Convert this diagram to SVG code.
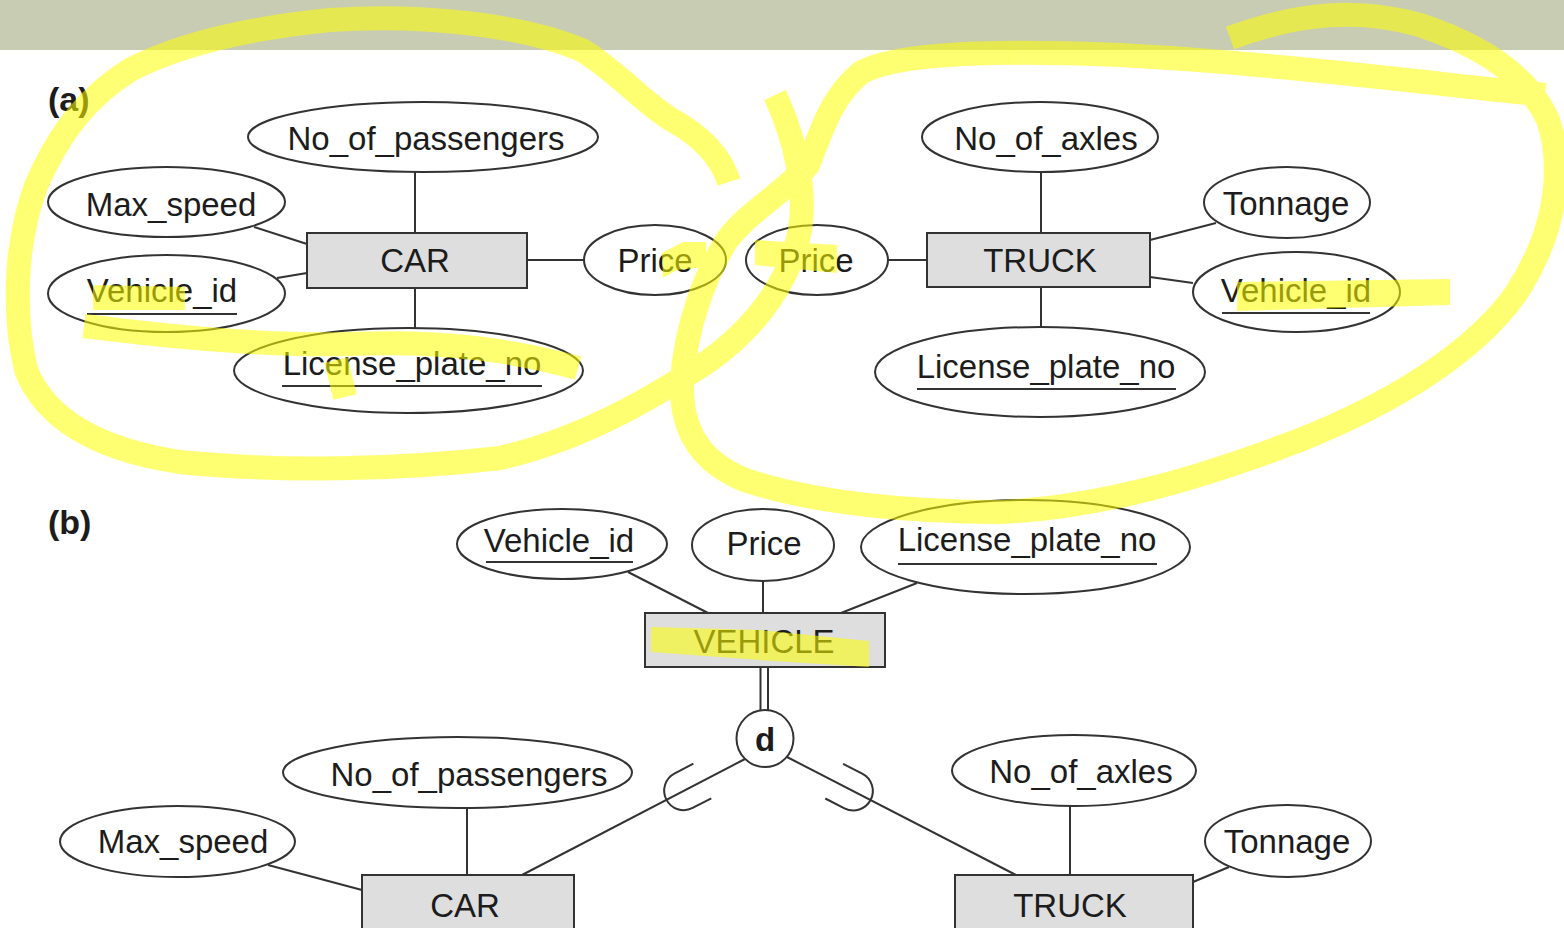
<svg xmlns="http://www.w3.org/2000/svg" width="1564" height="928" viewBox="0 0 1564 928">
  <style>
    .attr { fill: #ffffff; stroke: #333333; stroke-width: 2; }
    .ent { fill: #dedede; stroke: #333333; stroke-width: 2; }
    .lbl { font-family: "Liberation Sans", Arial, Helvetica, sans-serif; font-size: 33px; fill: #1c1c1c; text-anchor: middle; }
    .tag { font-family: "Liberation Sans", Arial, Helvetica, sans-serif; font-size: 34px; font-weight: bold; fill: #1c1c1c; }
    .key { stroke: #333333; stroke-width: 2; }
    #connectors line { stroke: #333333; stroke-width: 2; }
    #connectors path { fill: none; stroke: #333333; stroke-width: 2; }
    .hl path { fill: none; stroke: #ffff00; stroke-width: 24; stroke-linecap: butt; stroke-linejoin: round; }
    .hl polygon { fill: #ffff00; }
  </style>

  <!-- page background and header band -->
  <rect x="0" y="0" width="1564" height="928" fill="#ffffff"/>
  <rect x="0" y="0" width="1564" height="50" fill="#c8ccb3"/>

  <text class="tag" x="48" y="111">(a)</text>
  <text class="tag" x="48" y="534">(b)</text>

  <!-- connectors -->
  <g id="connectors">
    <!-- (a) CAR -->
    <line x1="415" y1="172" x2="415" y2="233"/>
    <line x1="254" y1="227" x2="307" y2="244"/>
    <line x1="277" y1="278" x2="307" y2="273"/>
    <line x1="415" y1="288" x2="415" y2="328"/>
    <line x1="527" y1="260" x2="584" y2="260"/>
    <!-- (a) TRUCK -->
    <line x1="888" y1="260" x2="927" y2="260"/>
    <line x1="1041" y1="172" x2="1041" y2="233"/>
    <line x1="1150" y1="240" x2="1216" y2="223"/>
    <line x1="1150" y1="277" x2="1193" y2="283"/>
    <line x1="1041" y1="287" x2="1041" y2="327"/>
    <!-- (b) VEHICLE -->
    <line x1="628" y1="572" x2="708" y2="613"/>
    <line x1="763" y1="581" x2="763" y2="613"/>
    <line x1="917" y1="583" x2="841" y2="613"/>
    <line x1="760.5" y1="667" x2="760.5" y2="712"/>
    <line x1="768" y1="667" x2="768" y2="712"/>
    <!-- (b) specialization lines -->
    <line x1="745" y1="759" x2="522" y2="875"/>
    <line x1="787" y1="757" x2="1016" y2="875"/>
    <path d="M48,-19.5 L69,-19.5 A19.5,19.5 0 0 1 69,19.5 L48,19.5" transform="translate(745,759) rotate(152.7)"/>
    <path d="M53,-19.5 L74.5,-19.5 A19.5,19.5 0 0 1 74.5,19.5 L53,19.5" transform="translate(787,757) rotate(27.1)"/>
    <!-- (b) CAR / TRUCK -->
    <line x1="467" y1="808" x2="467" y2="875"/>
    <line x1="268" y1="865" x2="362" y2="890"/>
    <line x1="1070" y1="806" x2="1070" y2="875"/>
    <line x1="1229" y1="867" x2="1193" y2="882"/>
  </g>

  <!-- (a) separate CAR entity -->
  <g id="a-car-no-of-passengers">
    <ellipse class="attr" cx="423" cy="137" rx="175" ry="35"/>
    <text class="lbl" x="426" y="150">No_of_passengers</text>
  </g>
  <g id="a-car-max-speed">
    <ellipse class="attr" cx="166.5" cy="202" rx="118.5" ry="35"/>
    <text class="lbl" x="171" y="216">Max_speed</text>
  </g>
  <g id="a-car-vehicle-id">
    <ellipse class="attr" cx="166.5" cy="293.5" rx="118.5" ry="38.5"/>
    <text class="lbl" x="162" y="302">Vehicle_id</text>
    <line class="key" x1="87" y1="314" x2="237" y2="314"/>
  </g>
  <g id="a-car">
    <rect class="ent" x="307" y="233" width="220" height="55"/>
    <text class="lbl" x="415" y="272">CAR</text>
  </g>
  <g id="a-car-price">
    <ellipse class="attr" cx="655" cy="260" rx="71" ry="35"/>
    <text class="lbl" x="655" y="272">Price</text>
  </g>
  <g id="a-car-license-plate-no">
    <ellipse class="attr" cx="408.5" cy="370.5" rx="174.5" ry="42.5"/>
    <text class="lbl" x="412" y="375">License_plate_no</text>
    <line class="key" x1="282" y1="386" x2="542" y2="386"/>
  </g>

  <!-- (a) separate TRUCK entity -->
  <g id="a-truck-price">
    <ellipse class="attr" cx="817" cy="260" rx="71" ry="35"/>
    <text class="lbl" x="816" y="272">Price</text>
  </g>
  <g id="a-truck">
    <rect class="ent" x="927" y="233" width="223" height="54"/>
    <text class="lbl" x="1040" y="272">TRUCK</text>
  </g>
  <g id="a-truck-no-of-axles">
    <ellipse class="attr" cx="1040" cy="137" rx="118" ry="35"/>
    <text class="lbl" x="1046" y="150">No_of_axles</text>
  </g>
  <g id="a-truck-tonnage">
    <ellipse class="attr" cx="1287" cy="202.5" rx="83" ry="35.5"/>
    <text class="lbl" x="1286" y="215">Tonnage</text>
  </g>
  <g id="a-truck-vehicle-id">
    <ellipse class="attr" cx="1296.5" cy="292" rx="103.5" ry="40"/>
    <text class="lbl" x="1296" y="302">Vehicle_id</text>
    <line class="key" x1="1222" y1="313" x2="1370" y2="313"/>
  </g>
  <g id="a-truck-license-plate-no">
    <ellipse class="attr" cx="1040" cy="372" rx="165" ry="45"/>
    <text class="lbl" x="1046" y="378">License_plate_no</text>
    <line class="key" x1="917" y1="389" x2="1176" y2="389"/>
  </g>

  <!-- (b) VEHICLE generalization -->
  <g id="b-vehicle-id">
    <ellipse class="attr" cx="562" cy="544" rx="105" ry="35"/>
    <text class="lbl" x="559" y="552">Vehicle_id</text>
    <line class="key" x1="486" y1="562" x2="633" y2="562"/>
  </g>
  <g id="b-price">
    <ellipse class="attr" cx="763" cy="545" rx="71" ry="36"/>
    <text class="lbl" x="764" y="555">Price</text>
  </g>
  <g id="b-license-plate-no">
    <ellipse class="attr" cx="1025.5" cy="547" rx="164.5" ry="47"/>
    <text class="lbl" x="1027" y="551">License_plate_no</text>
    <line class="key" x1="898" y1="564" x2="1157" y2="564"/>
  </g>
  <g id="b-vehicle">
    <rect class="ent" x="645" y="613" width="240" height="54"/>
    <text class="lbl" x="764" y="653">VEHICLE</text>
  </g>
  <g id="b-disjoint">
    <circle class="attr" cx="765" cy="738.5" r="28.5"/>
    <text class="lbl" x="765" y="751" font-weight="bold" font-size="31">d</text>
  </g>
  <g id="b-car-no-of-passengers">
    <ellipse class="attr" cx="457.5" cy="772.5" rx="174.5" ry="35.5"/>
    <text class="lbl" x="469" y="786">No_of_passengers</text>
  </g>
  <g id="b-car-max-speed">
    <ellipse class="attr" cx="177.5" cy="841.5" rx="117.5" ry="35.5"/>
    <text class="lbl" x="183" y="853">Max_speed</text>
  </g>
  <g id="b-car">
    <rect class="ent" x="362" y="875" width="212" height="70"/>
    <text class="lbl" x="465" y="917">CAR</text>
  </g>
  <g id="b-truck-no-of-axles">
    <ellipse class="attr" cx="1074" cy="770.5" rx="122" ry="35.5"/>
    <text class="lbl" x="1081" y="783">No_of_axles</text>
  </g>
  <g id="b-truck-tonnage">
    <ellipse class="attr" cx="1288" cy="841" rx="83" ry="36"/>
    <text class="lbl" x="1287" y="853">Tonnage</text>
  </g>
  <g id="b-truck">
    <rect class="ent" x="955" y="875" width="238" height="70"/>
    <text class="lbl" x="1070" y="917">TRUCK</text>
  </g>

  <!-- highlighter marks drawn over the figure -->
  <g class="hl" opacity="0.55">
    <path d="M729,182 C722,160 705,138 672,120 C642,102 618,72 582,50 C520,24 420,14 330,20 C250,28 180,44 130,70 C90,95 60,130 36,186 C16,240 12,310 26,370 C46,420 100,450 180,462 C280,472 400,470 500,458 C580,440 650,400 710,360 C758,325 790,280 800,230 C806,190 796,140 775,95"/>
    <path d="M84,326 C150,334 250,346 350,344 C450,340 520,352 578,368"/>
    <path d="M336,360 L345,397" stroke-width="16"/>
    <polygon points="93,285 185,287 185,310 93,310"/>
    <polygon points="662,253 683,242 706,242 706,267 677,270 663,278"/>
    <polygon points="755,240 837,245 837,273 755,265"/>
    <path d="M1545,95 C1420,82 1260,62 1120,55 C1000,50 900,52 862,72 C832,95 822,130 808,165 C785,192 750,210 727,240 C702,280 686,330 682,380 C680,430 700,462 745,480 C820,505 920,512 1000,512 C1100,508 1200,478 1300,440 C1400,400 1475,350 1515,295 C1555,235 1565,170 1548,120 C1528,75 1480,45 1420,25 C1360,8 1300,12 1230,38"/>
    <polygon points="1237,282 1450,279 1450,305 1237,311"/>
    <polygon points="651,627 760,630 869,641 869,667 760,660 651,652"/>
  </g>
</svg>
